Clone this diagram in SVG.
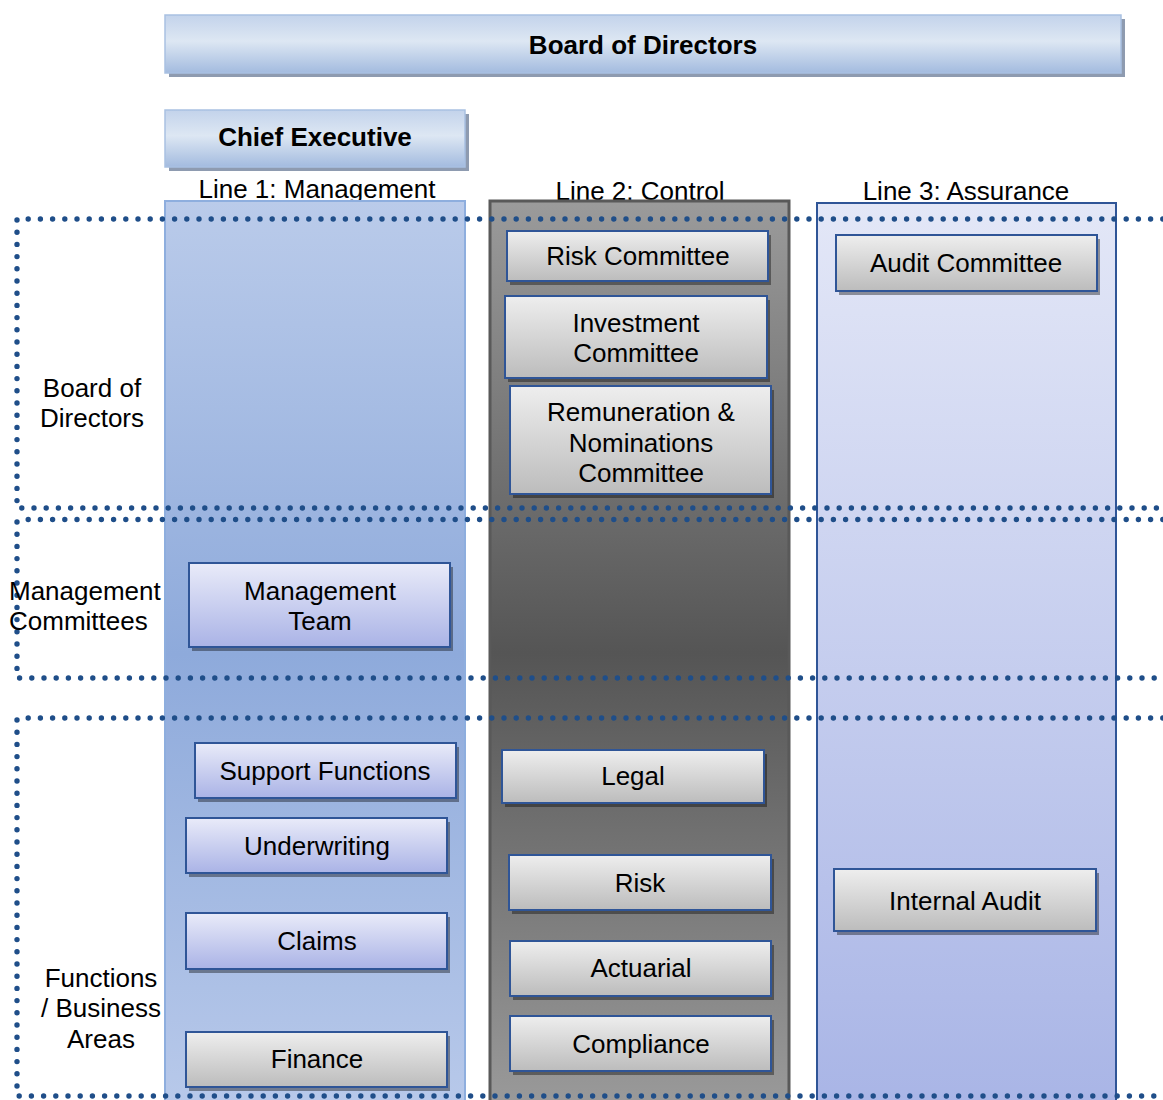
<svg xmlns="http://www.w3.org/2000/svg" width="1163" height="1100" viewBox="0 0 1163 1100">
<defs>
<linearGradient id="gBar" x1="0" y1="0" x2="0" y2="1">
<stop offset="0" stop-color="#c3d3eb"/><stop offset="0.45" stop-color="#dde7f3"/><stop offset="1" stop-color="#a3bbdf"/>
</linearGradient>
<linearGradient id="gCol1" x1="0" y1="0" x2="0" y2="1">
<stop offset="0" stop-color="#bacbea"/><stop offset="0.5" stop-color="#8eaadb"/><stop offset="1" stop-color="#b8c9ea"/>
</linearGradient>
<linearGradient id="gCol2" x1="0" y1="0" x2="0" y2="1">
<stop offset="0" stop-color="#9b9b9b"/><stop offset="0.5" stop-color="#555555"/><stop offset="1" stop-color="#9a9a9a"/>
</linearGradient>
<linearGradient id="gCol3" x1="0" y1="0" x2="0" y2="1">
<stop offset="0" stop-color="#e3e7f7"/><stop offset="1" stop-color="#a9b5e6"/>
</linearGradient>
<linearGradient id="gGray" x1="0" y1="0" x2="0" y2="1">
<stop offset="0" stop-color="#eeeeee"/><stop offset="1" stop-color="#bcbcbc"/>
</linearGradient>
<linearGradient id="gLav" x1="0" y1="0" x2="0" y2="1">
<stop offset="0" stop-color="#e9ebf9"/><stop offset="1" stop-color="#aab3e6"/>
</linearGradient>
</defs>
<style>
text{font-family:"Liberation Sans",Arial,sans-serif;font-size:26px;fill:#000;text-anchor:middle}
.title{font-weight:bold}
.left{text-anchor:start}
.bar{fill:url(#gBar);stroke:#a9c1e2;stroke-width:1.5}
.barsh{fill:#8e9bb0}
.sh{fill:#000;opacity:0.38}
.gray{fill:url(#gGray);stroke:#2f5597;stroke-width:2}
.lav{fill:url(#gLav);stroke:#2f5597;stroke-width:2}
.dots{fill:none;stroke:#1f4e89;stroke-width:5.4;stroke-linecap:round;stroke-dasharray:0 12.2}
</style>

<g id="board-bar">
<rect class="barsh" x="169" y="19" width="956" height="58"/>
<rect class="bar" x="165" y="15" width="956" height="58"/>
<text class="title" x="643" y="54">Board of Directors</text>
</g>
<g id="chief-executive">
<rect class="barsh" x="169" y="114" width="300" height="57"/>
<rect class="bar" x="165" y="110" width="300" height="57"/>
<text class="title" x="315" y="146">Chief Executive</text>
</g>

<g id="line-labels">
<text x="317" y="198">Line 1: Management</text>
<text x="640" y="200">Line 2: Control</text>
<text x="966" y="200">Line 3: Assurance</text>
</g>

<g id="line1-column"><rect x="165" y="201" width="300" height="905" fill="url(#gCol1)" stroke="#8eaede" stroke-width="2"/></g>
<g id="line2-column"><rect x="490" y="201" width="299" height="905" fill="url(#gCol2)" stroke="#595959" stroke-width="3"/></g>
<g id="line3-column"><rect x="817" y="203" width="299" height="903" fill="url(#gCol3)" stroke="#2f5597" stroke-width="2"/></g>

<g id="sections">
<path class="dots" d="M1175 219 H17 V508 H1175"/>
<path class="dots" d="M1175 519.5 H22 M17 522 V678 H1175"/>
<path class="dots" d="M1175 718 H22 M17 720 V1096 H1175"/>
</g>

<g id="section-labels">
<text x="92" y="397">Board of</text>
<text x="92" y="427">Directors</text>
<text class="left" x="9" y="600">Management</text>
<text class="left" x="9" y="630">Committees</text>
<text x="101" y="987">Functions</text>
<text x="101" y="1017">/ Business</text>
<text x="101" y="1048">Areas</text>
</g>

<g id="risk-committee">
<rect class="sh" x="510" y="235" width="261" height="50"/>
<rect class="gray" x="507" y="231" width="261" height="50"/>
<text x="638" y="265">Risk Committee</text>
</g>
<g id="investment-committee">
<rect class="sh" x="508" y="300" width="262" height="82"/>
<rect class="gray" x="505" y="296" width="262" height="82"/>
<text x="636" y="332">Investment</text>
<text x="636" y="362">Committee</text>
</g>
<g id="remuneration-committee">
<rect class="sh" x="513" y="390" width="261" height="108"/>
<rect class="gray" x="510" y="386" width="261" height="108"/>
<text x="641" y="421">Remuneration &amp;</text>
<text x="641" y="452">Nominations</text>
<text x="641" y="482">Committee</text>
</g>
<g id="audit-committee">
<rect class="sh" x="839" y="239" width="261" height="56"/>
<rect class="gray" x="836" y="235" width="261" height="56"/>
<text x="966" y="272">Audit Committee</text>
</g>
<g id="management-team">
<rect class="sh" x="192" y="567" width="261" height="84"/>
<rect class="lav" x="189" y="563" width="261" height="84"/>
<text x="320" y="600">Management</text>
<text x="320" y="630">Team</text>
</g>
<g id="support-functions">
<rect class="sh" x="198" y="747" width="261" height="55"/>
<rect class="lav" x="195" y="743" width="261" height="55"/>
<text x="325" y="780">Support Functions</text>
</g>
<g id="underwriting">
<rect class="sh" x="189" y="822" width="261" height="55"/>
<rect class="lav" x="186" y="818" width="261" height="55"/>
<text x="317" y="855">Underwriting</text>
</g>
<g id="claims">
<rect class="sh" x="189" y="917" width="261" height="56"/>
<rect class="lav" x="186" y="913" width="261" height="56"/>
<text x="317" y="950">Claims</text>
</g>
<g id="finance">
<rect class="sh" x="189" y="1036" width="261" height="55"/>
<rect class="gray" x="186" y="1032" width="261" height="55"/>
<text x="317" y="1068">Finance</text>
</g>
<g id="legal">
<rect class="sh" x="505" y="754" width="262" height="53"/>
<rect class="gray" x="502" y="750" width="262" height="53"/>
<text x="633" y="785">Legal</text>
</g>
<g id="risk">
<rect class="sh" x="512" y="859" width="262" height="55"/>
<rect class="gray" x="509" y="855" width="262" height="55"/>
<text x="640" y="892">Risk</text>
</g>
<g id="actuarial">
<rect class="sh" x="513" y="945" width="261" height="55"/>
<rect class="gray" x="510" y="941" width="261" height="55"/>
<text x="641" y="977">Actuarial</text>
</g>
<g id="compliance">
<rect class="sh" x="513" y="1020" width="261" height="55"/>
<rect class="gray" x="510" y="1016" width="261" height="55"/>
<text x="641" y="1053">Compliance</text>
</g>
<g id="internal-audit">
<rect class="sh" x="837" y="873" width="262" height="62"/>
<rect class="gray" x="834" y="869" width="262" height="62"/>
<text x="965" y="910">Internal Audit</text>
</g>

<g id="connectors"/>
</svg>
